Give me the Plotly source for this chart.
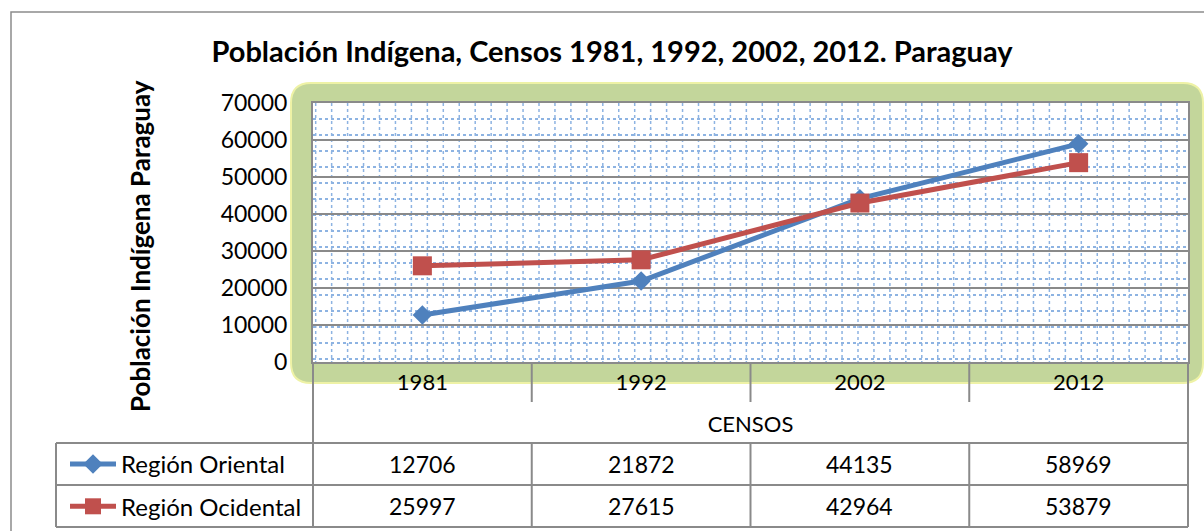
import plotly.graph_objects as go

W, H = 1204, 531

# data
censos = ["1981", "1992", "2002", "2012"]
region_oriental = [12706, 21872, 44135, 58969]
region_ocidental = [25997, 27615, 42964, 53879]
series_names = ["Región Oriental", "Región Ocidental"]
series_values = [region_oriental, region_ocidental]
series_colors = ["#4F81BD", "#C0504D"]
series_symbols = ["diamond", "square"]
series_sizes = [15, 19]
y_ticks = [0, 10000, 20000, 30000, 40000, 50000, 60000, 70000]

# plot area in pixels (figure has no margins, everything placed in paper units)
L, R, T, B = 313, 1188, 103, 362
GRAY = "#8A8A8A"
DOT = "#8DB3E2"
FONT = "Lato"


def px(x):
    return x / W


def py(y):
    return 1 - y / H


def rounded_rect(x0, y0, x1, y1, r):
    rx, ry = r / W, r / H
    X0, X1, Y0, Y1 = px(x0), px(x1), py(y0), py(y1)
    return (f"M{X0+rx},{Y0} L{X1-rx},{Y0} Q{X1},{Y0} {X1},{Y0-ry} "
            f"L{X1},{Y1+ry} Q{X1},{Y1} {X1-rx},{Y1} L{X0+rx},{Y1} "
            f"Q{X0},{Y1} {X0},{Y1+ry} L{X0},{Y0-ry} Q{X0},{Y0} {X0+rx},{Y0} Z")


def hline(y, x0, x1, **kw):
    return dict(type="line", xref="paper", yref="paper", x0=px(x0), x1=px(x1),
                y0=py(y), y1=py(y), **kw)


def vline(x, y0, y1, **kw):
    return dict(type="line", xref="paper", yref="paper", x0=px(x), x1=px(x),
                y0=py(y0), y1=py(y1), **kw)


fig = go.Figure()

for name, vals, color, sym, size in zip(series_names, series_values, series_colors,
                                       series_symbols, series_sizes):
    fig.add_trace(go.Scatter(x=censos, y=vals, name=name, legendgroup=name,
                             mode="lines+markers",
                             line=dict(color=color, width=5),
                             marker=dict(symbol=sym, size=size, color=color)))

shapes = []
# outer chart border
shapes.append(dict(type="rect", xref="paper", yref="paper", x0=px(11), x1=px(1215),
                   y0=py(12), y1=py(545), line=dict(color="#8C8C8C", width=1.5),
                   layer="below"))
# green rounded frame and white plot area
shapes.append(dict(type="path", xref="paper", yref="paper",
                   path=rounded_rect(291, 83, 1203, 383, 20),
                   fillcolor="#C3D69B", line=dict(color="#EEF2A6", width=2), layer="below"))
shapes.append(dict(type="rect", xref="paper", yref="paper", x0=px(L), x1=px(R),
                   y0=py(B), y1=py(T), fillcolor="white", line=dict(width=0), layer="below"))
# vertical part of the small dotted grid pattern
gx = L + 2.7
while gx < R:
    shapes.append(vline(gx, T, B, line=dict(color=DOT, width=1.5, dash="dot"), layer="below"))
    gx += 15.95

# data table lines
line_style = dict(color=GRAY, width=2)
for y in [443, 485, 527]:
    shapes.append(hline(y, 56, R, line=line_style))
shapes.append(vline(56, 443, 527, line=line_style))
for xx in [L, R]:
    shapes.append(vline(xx, B, 527, line=line_style))
col_w = (R - L) / len(censos)
for j in range(1, len(censos)):
    for ya, yb in [(B, 402), (443, 527)]:
        shapes.append(vline(L + j * col_w, ya, yb, line=line_style))

annotations = []
row_centers = [464, 506]
for vals, yc in zip(series_values, row_centers):
    for i, v in enumerate(vals):
        # category index on the x axis (numeric-like names would be read as indices)
        annotations.append(dict(x=i, xref="x", y=py(yc), yref="paper", text=str(v),
                                xanchor="center", yanchor="middle", showarrow=False,
                                font=dict(size=23, color="black")))
annotations.append(dict(x=px(122), y=py(246), xref="paper", yref="paper",
                        xanchor="left", yanchor="middle",
                        text="<b>Población Indígena Paraguay</b>", textangle=-90,
                        showarrow=False, font=dict(size=26, color="black")))

fig.update_layout(
    width=W, height=H,
    margin=dict(l=0, r=0, t=0, b=0),
    paper_bgcolor="white", plot_bgcolor="white",
    font=dict(family=FONT, size=22, color="black"),
    title=dict(text="<b>Población Indígena, Censos 1981, 1992, 2002, 2012. Paraguay</b>",
               x=px(612), xanchor="center", y=py(52), yanchor="middle",
               font=dict(size=29, color="black")),
    xaxis=dict(domain=[px(L), px(R)], type="category", range=[-0.5, len(censos) - 0.5],
               showgrid=False, showline=True, linecolor=GRAY, linewidth=2, mirror=True,
               ticks="", tickfont=dict(size=22), automargin=False,
               title=dict(text="CENSOS", font=dict(size=22), standoff=22)),
    yaxis=dict(domain=[py(B), py(T)], range=[0, 70000], tickvals=y_ticks, tickformat="d",
               showgrid=True, gridcolor=GRAY, gridwidth=2, zeroline=False,
               showline=True, linecolor=GRAY, linewidth=2, mirror=True,
               ticks="", tickfont=dict(size=23), ticklabelstandoff=19, automargin=False,
               minor=dict(tick0=931, dtick=4311, showgrid=True, gridcolor=DOT,
                          griddash="dot", gridwidth=1.5)),
    showlegend=True,
    legend=dict(x=px(65), xanchor="left", y=py(442), yanchor="top",
                font=dict(size=24), itemwidth=46, tracegroupgap=8,
                bgcolor="rgba(0,0,0,0)", traceorder="grouped"),
    shapes=shapes,
    annotations=annotations,
)

fig.write_html("out.html", config={"displayModeBar": False},
               post_script="document.body.style.margin='0';")
